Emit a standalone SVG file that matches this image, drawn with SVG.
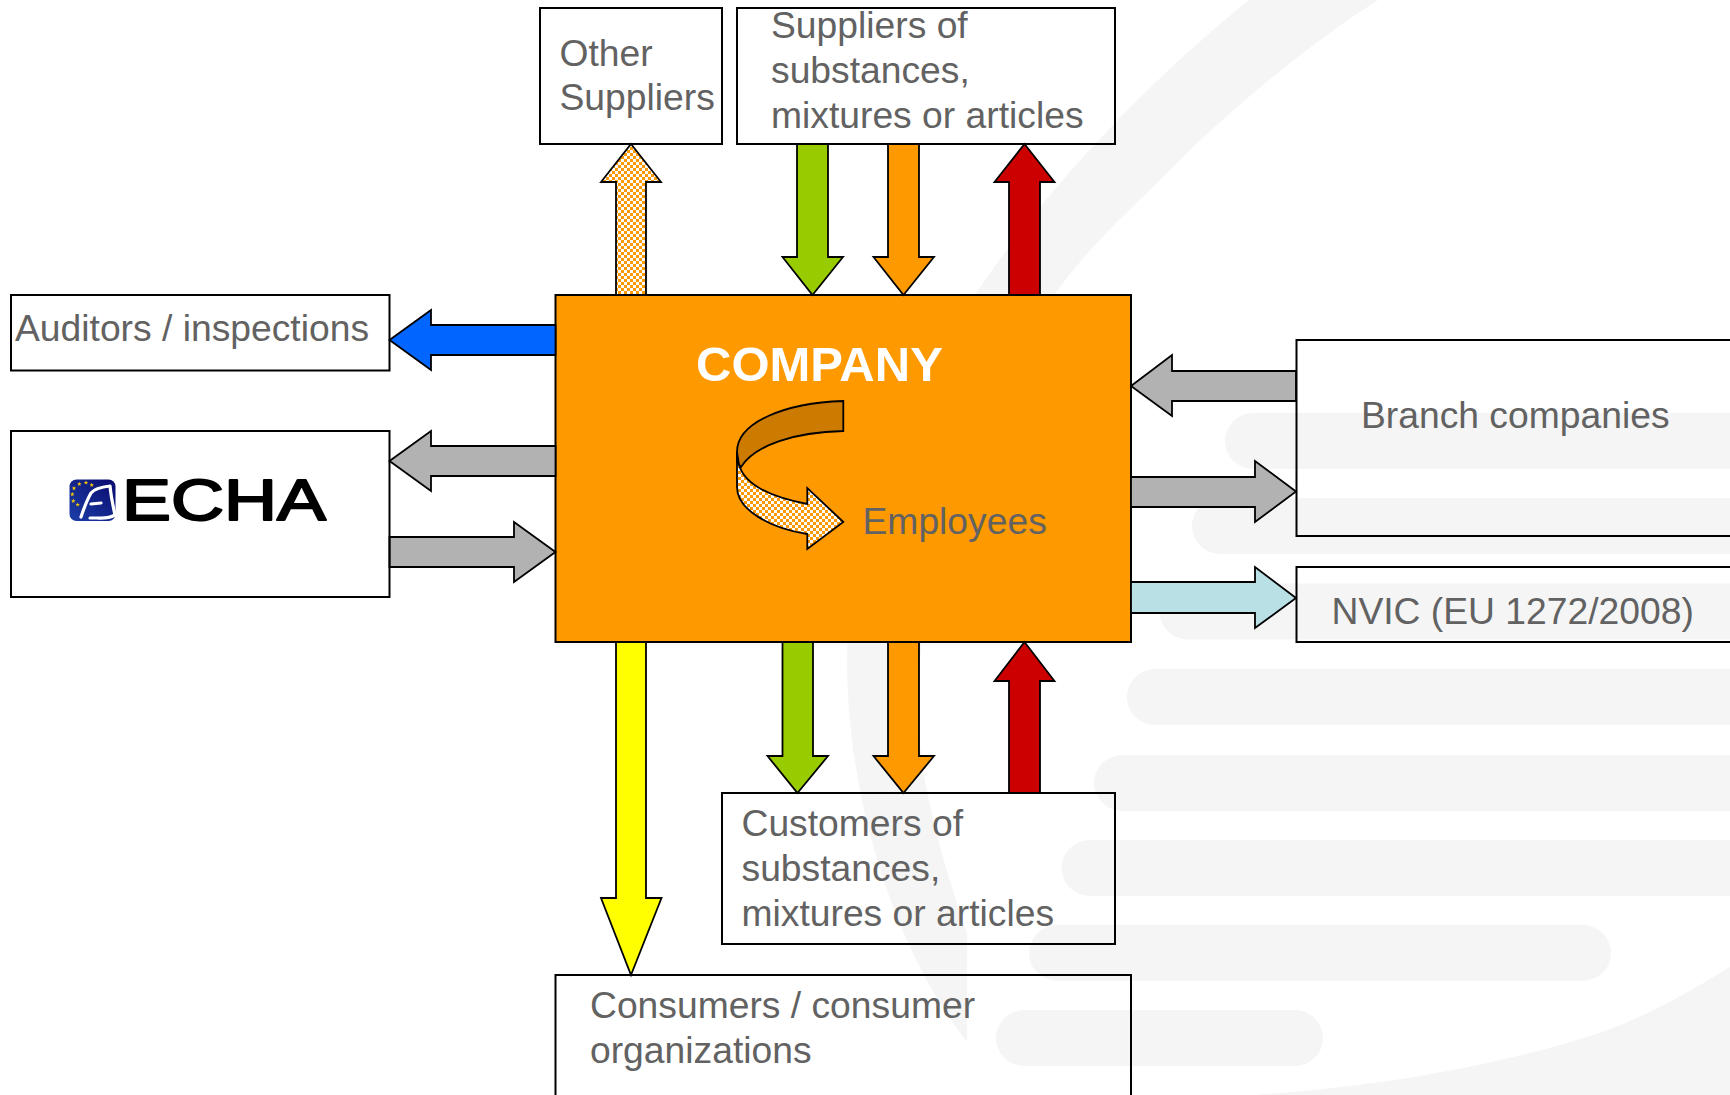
<svg xmlns="http://www.w3.org/2000/svg" width="1730" height="1095" viewBox="0 0 1730 1095">
<defs>
<style>
.t{font-family:"Liberation Sans",Arial,sans-serif;font-size:37.250px;fill:#626262}
.box{fill:none;stroke:#000;stroke-width:2}
.a{stroke:#000;stroke-width:1.800;stroke-linejoin:miter}
.bg{fill:#f5f5f5}
</style>
<pattern id="chk" width="6" height="6" patternUnits="userSpaceOnUse"><rect width="6" height="6" fill="#ff9900"/><rect width="3" height="3" fill="#fff"/><rect x="3" y="3" width="3" height="3" fill="#fff"/></pattern>
<linearGradient id="eu" x1="0" y1="1" x2="1" y2="0"><stop offset="0" stop-color="#1c3fa8"/><stop offset="1" stop-color="#0a0a6e"/></linearGradient>
<polygon id="star" points="0,-2.2 0.6,-0.7 2.2,-0.7 0.9,0.3 1.4,1.9 0,0.9 -1.4,1.9 -0.9,0.3 -2.2,-0.7 -0.6,-0.7" fill="#ffcc00"/>
</defs>
<rect width="1730" height="1095" fill="#fff"/>
<g id="background">
<path class="bg" d="M1249 0C1100 120 847 380 847 660C847 800 895 950 967 1042L967 933C935 840 915 760 918 690C925 530 990 380 1054 295C1090 245 1130 210 1173 167C1225 115 1300 50 1378 0Z"/>
<path class="bg" d="M1256 1095C1400 1085 1520 1060 1608 1030C1660 1010 1700 985 1730 967L1730 1095Z"/>
<rect class="bg" x="1225" y="413" width="540" height="56" rx="28"/>
<rect class="bg" x="1192" y="498" width="570" height="56" rx="28"/>
<rect class="bg" x="1159.500" y="583.500" width="610" height="56" rx="28"/>
<rect class="bg" x="1127" y="669" width="640" height="56" rx="28"/>
<rect class="bg" x="1094" y="755" width="670" height="56" rx="28"/>
<rect class="bg" x="1061.500" y="840" width="700" height="56" rx="28"/>
<rect class="bg" x="1029" y="925" width="582" height="56" rx="28"/>
<rect class="bg" x="996" y="1010" width="327" height="56" rx="28"/>
</g>
<g id="company">
<rect x="555.500" y="295" width="575.500" height="347" fill="#ff9900" stroke="#000" stroke-width="2"/>
<text x="696" y="381" font-family="'Liberation Sans',Arial,sans-serif" font-size="49" font-weight="700" fill="#fff">COMPANY</text>
<text class="t" x="862.500" y="534">Employees</text>
</g>
<g id="connectors">
<polygon class="a" fill="url(#chk)" points="631,144 661,182 646,182 646,295 616,295 616,182 601,182"/>
<polygon class="a" fill="#99cc00" points="812.500,295 843,257 828,257 828,144 797,144 797,257 782.500,257"/>
<polygon class="a" fill="#ff9900" points="903.500,295 934,257 919,257 919,144 888,144 888,257 873.500,257"/>
<polygon class="a" fill="#cc0000" points="1024.500,144 1054.500,182 1040,182 1040,295 1009,295 1009,182 994.500,182"/>
<polygon class="a" fill="#0066ff" points="389.500,340 431,310 431,325 555.500,325 555.500,355 431,355 431,370"/>
<polygon class="a" fill="#b2b2b2" points="389.500,461 431,431 431,446 555.500,446 555.500,476 431,476 431,491"/>
<polygon class="a" fill="#b2b2b2" points="555.500,552 514,522 514,537 389.500,537 389.500,567 514,567 514,582"/>
<polygon class="a" fill="#b2b2b2" points="1131,386 1172,355 1172,371 1296,371 1296,401 1172,401 1172,416"/>
<polygon class="a" fill="#b2b2b2" points="1296,491.500 1255,461 1255,477 1131,477 1131,507 1255,507 1255,522"/>
<polygon class="a" fill="#b9e0e4" points="1296,598 1255,567 1255,582 1131,582 1131,613 1255,613 1255,628"/>
<polygon class="a" fill="#ffff00" points="631,975 661.500,898 646,898 646,642 616,642 616,898 601,898"/>
<polygon class="a" fill="#99cc00" points="797.500,793 828,756 813,756 813,642 782.500,642 782.500,756 767.500,756"/>
<polygon class="a" fill="#ff9900" points="903.500,793 934,756 919,756 919,642 888,642 888,756 873.500,756"/>
<polygon class="a" fill="#cc0000" points="1024.500,642 1054.500,681 1040,681 1040,793 1009,793 1009,681 994.500,681"/>
<path class="a" fill="#cc7a00" d="M843.300 401C785 403 737 422 737 452L737 462L741 467C755 445 795 432 843.300 431Z"/>
<path class="a" fill="url(#chk)" d="M737 452L737 487C737 510 770 528 807.300 534L807.300 549L843.300 522L807.300 488L807.300 504C770 497 745 485 739 465Z"/>
</g>
<g id="other-suppliers"><rect class="box" x="540" y="8" width="182" height="136"/>
<text class="t" x="559.500" y="66">Other</text><text class="t" x="559.500" y="110">Suppliers</text></g>
<g id="suppliers"><rect class="box" x="737" y="8" width="378" height="136"/>
<text class="t" x="771" y="38">Suppliers of</text><text class="t" x="771" y="83">substances,</text><text class="t" x="771" y="128">mixtures or articles</text></g>
<g id="auditors"><rect class="box" x="11" y="295" width="378.500" height="75.500"/>
<text class="t" x="15" y="341">Auditors / inspections</text></g>
<g id="echa"><rect class="box" x="11" y="431" width="378.500" height="166"/>
<rect x="69.500" y="479.500" width="46" height="41.500" rx="7" fill="url(#eu)"/>
<use href="#star" x="79.300" y="484"/><use href="#star" x="86" y="482.700"/><use href="#star" x="91.700" y="485"/><use href="#star" x="74" y="488.300"/><use href="#star" x="72.300" y="494.300"/><use href="#star" x="73.300" y="501"/><use href="#star" x="77.700" y="504.700"/>
<path d="M81 517C84 508 87 500 91 493C94 489 101 487 110 486C111 496 113 506 115 515C108 519 101 518 97 518L90 518M91 504L101 503" fill="none" stroke="#fff" stroke-width="3.200" stroke-linejoin="round" stroke-linecap="round"/>
<text x="122" y="520" font-family="'Liberation Sans',Arial,sans-serif" font-size="57" textLength="204" lengthAdjust="spacingAndGlyphs" fill="#000" stroke="#000" stroke-width="2" stroke-linejoin="round">ECHA</text></g>
<g id="branch"><rect class="box" x="1296.500" y="340" width="440" height="196"/>
<text class="t" x="1361" y="428">Branch companies</text></g>
<g id="nvic"><rect class="box" x="1296.500" y="567" width="440" height="75"/>
<text class="t" x="1331.500" y="624">NVIC (EU 1272/2008)</text></g>
<g id="customers"><rect class="box" x="722" y="793" width="393" height="151"/>
<text class="t" x="741.500" y="836">Customers of</text><text class="t" x="741.500" y="881">substances,</text><text class="t" x="741.500" y="926">mixtures or articles</text></g>
<g id="consumers"><rect class="box" x="555.500" y="975" width="575.500" height="130"/>
<text class="t" x="590" y="1018">Consumers / consumer</text><text class="t" x="590" y="1063">organizations</text></g>
</svg>
